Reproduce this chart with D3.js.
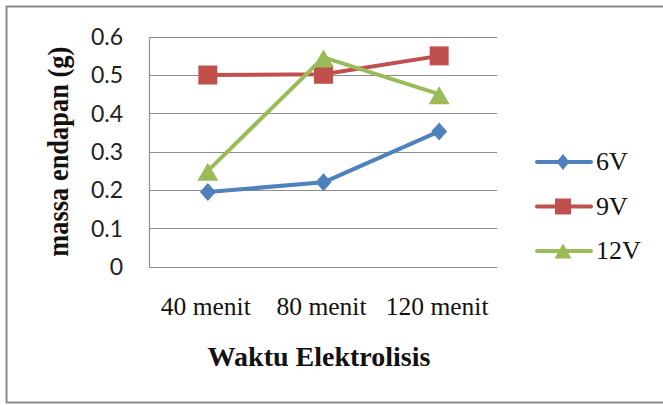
<!DOCTYPE html>
<html><head><meta charset="utf-8">
<script src="https://cdn.jsdelivr.net/npm/d3@7"></script>
<style>body{margin:0;background:#fff}</style>
</head><body>
<script>
const categories = ["40 menit", "80 menit", "120 menit"];
const seriesNames = ["6V", "9V", "12V"];
const values6V = [0.195, 0.22, 0.353];
const values9V = [0.50, 0.502, 0.55];
const values12V = [0.25, 0.546, 0.45];
const yTicks = [0, 0.1, 0.2, 0.3, 0.4, 0.5, 0.6];
const colors = ["#4F81BD", "#C0504D", "#9BBB59"];

const shapes = {
  diamond: (w, h) => `M0,${-h}L${w},0L0,${h}L${-w},0Z`,
  square: (w, h) => `M${-w},${-h}H${w}V${h}H${-w}Z`,
  triangle: (w, h) => `M0,${-h}L${w},${h}H${-w}Z`
};
const markerTypes = ["diamond", "square", "triangle"];
const series = [values6V, values9V, values12V].map((v, i) => ({name: seriesNames[i], values: v, color: colors[i], type: markerTypes[i]}));

const W = 663, H = 405;
const svg = d3.select("body").append("svg").attr("width", W).attr("height", H);

svg.append("rect").attr("x", 6.5).attr("y", 6.5).attr("width", 700).attr("height", 396)
  .attr("fill", "#fff").attr("stroke", "#8a8a8a").attr("stroke-width", 2);

const x = d3.scalePoint().domain(categories).range([150, 497]).padding(0.5);
const y = d3.scaleLinear().domain([0, 0.6]).range([266.7, 36.7]);

svg.append("g").selectAll("line").data(yTicks).join("line")
  .attr("x1", 149.5).attr("x2", 497).attr("y1", d => Math.round(y(d)) + 0.5).attr("y2", d => Math.round(y(d)) + 0.5)
  .attr("stroke", "#8c8c8c").attr("stroke-width", 1.2);
svg.append("line").attr("x1", 149.5).attr("x2", 149.5).attr("y1", Math.round(y(0.6))+0.5).attr("y2", Math.round(y(0))+0.5)
  .attr("stroke", "#8c8c8c").attr("stroke-width", 1.2);

svg.append("g").selectAll("text").data(yTicks).join("text")
  .attr("x", 123).attr("y", d => y(d)).attr("dy", "0.36em").attr("text-anchor", "end")
  .attr("font-family", "Lato, 'Open Sans', sans-serif").attr("font-size", 23).attr("fill", "#222")
  .text(d => d === 0 ? "0" : d3.format(".1f")(d));

const serif = "'Liberation Serif', 'Times New Roman', serif";

svg.append("g").selectAll("text").data(categories).join("text")
  .attr("x", d => x(d) - 2).attr("y", 314.5).attr("text-anchor", "middle")
  .attr("font-family", serif).attr("font-size", 25.5).attr("fill", "#111")
  .text(d => d);

svg.append("text").attr("x", 319).attr("y", 365.5).attr("text-anchor", "middle")
  .attr("font-family", serif).attr("font-weight", "bold").attr("font-size", 28).attr("fill", "#111")
  .text("Waktu Elektrolisis");
svg.append("text").attr("transform", "translate(67.5,151.7) rotate(-90)").attr("text-anchor", "middle")
  .attr("font-family", serif).attr("font-weight", "bold").attr("font-size", 29).attr("fill", "#111")
  .attr("textLength", 210).attr("lengthAdjust", "spacingAndGlyphs")
  .text("massa endapan (g)");

const line = d3.line().x((d, i) => x(categories[i])).y(d => y(d));
const markerDims = [[8, 9], [9.5, 9.5], [10.5, 9]];
series.forEach((s, si) => {
  svg.append("path").datum(s.values).attr("d", line).attr("fill", "none")
    .attr("stroke", s.color).attr("stroke-width", 4).attr("stroke-linejoin", "round");
  svg.append("g").selectAll("path").data(s.values).join("path")
    .attr("transform", (d, i) => `translate(${x(categories[i])},${y(d) + (si === 2 ? 1 : 0)})`)
    .attr("d", shapes[s.type](...markerDims[si]))
    .attr("fill", s.color);
});

const legY = [162, 206.5, 251];
const legDims = [[6.5, 8], [8, 8], [8.5, 7.5]];
series.forEach((s, si) => {
  const g = svg.append("g").attr("transform", `translate(0,${legY[si]})`);
  g.append("line").attr("x1", 537).attr("x2", 591).attr("y1", 0).attr("y2", 0)
    .attr("stroke", s.color).attr("stroke-width", 4).attr("stroke-linecap", "round");
  g.append("path").attr("transform", `translate(563,0)`)
    .attr("d", shapes[s.type](...legDims[si])).attr("fill", s.color);
  g.append("text").attr("x", 596).attr("y", 8)
    .attr("font-family", serif).attr("font-size", 26).attr("fill", "#111")
    .text(s.name);
});
</script>
</body></html>
